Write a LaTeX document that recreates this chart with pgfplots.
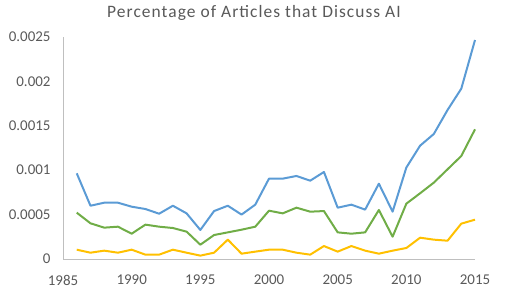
\documentclass[border=0pt]{standalone}
\usepackage{pgfplots}
\pgfplotsset{compat=1.18}
\usepackage{fontspec}
\setmainfont{Carlito}
\definecolor{cblue}{HTML}{5B9BD5}
\definecolor{cgreen}{HTML}{70AD47}
\definecolor{cyellow}{HTML}{FFC000}
\definecolor{ctext}{HTML}{595959}
\definecolor{caxis}{HTML}{BFBFBF}
\begin{document}
\begin{tikzpicture}[x=1bp,y=1bp]
\path[use as bounding box] (0,0) rectangle (514,290);
\node[text=ctext, font=\fontsize{17.5}{20}\selectfont\addfontfeature{LetterSpace=6}, anchor=center] at (254,277) {Percentage of Articles that Discuss AI};
\begin{axis}[
  at={(63bp,31bp)}, anchor=south west,
  scale only axis, width=412bp, height=222bp,
  xmin=1985, xmax=2015, ymin=0, ymax=0.0025,
  axis lines=left,
  axis line style={draw=caxis, line width=0.8bp, -},
  axis x line*=bottom, axis y line*=left,
  major tick length=0pt,
  scaled y ticks=false,
  xtick={1985,1990,1995,2000,2005,2010,2015},
  xticklabels={1985,1990,1995,2000,2005,2010,2015},
  ytick={0,0.0005,0.001,0.0015,0.002,0.0025},
  yticklabels={0,0.0005,0.001,0.0015,0.002,0.0025},
  ticklabel style={text=ctext, font=\fontsize{15}{18}\selectfont},
  xticklabel style={yshift=-12.5bp},
  yticklabel style={xshift=-9bp},
  clip=false,
  every axis plot/.append style={line width=2bp, mark=none, line join=round},
]
\addplot[cblue] coordinates {
(1986,0.000965)(1987,0.0006)(1988,0.000634)(1989,0.000634)(1990,0.000589)
(1991,0.000563)(1992,0.00051)(1993,0.0006)(1994,0.000514)(1995,0.000327)
(1996,0.00054)(1997,0.0006)(1998,0.0005)(1999,0.000612)(2000,0.000905)
(2001,0.000905)(2002,0.000935)(2003,0.000882)(2004,0.00098)(2005,0.000578)
(2006,0.000612)(2007,0.000556)(2008,0.000848)(2009,0.000533)(2010,0.00103)
(2011,0.001276)(2012,0.001408)(2013,0.001678)(2014,0.001918)(2015,0.002466)
};
\addplot[cgreen] coordinates {
(1986,0.000522)(1987,0.000402)(1988,0.000353)(1989,0.000364)(1990,0.000285)
(1991,0.000387)(1992,0.000364)(1993,0.000349)(1994,0.000308)(1995,0.000161)
(1996,0.00027)(1997,0.0003)(1998,0.00033)(1999,0.000364)(2000,0.000544)
(2001,0.000514)(2002,0.000578)(2003,0.000533)(2004,0.00054)(2005,0.0003)
(2006,0.000285)(2007,0.0003)(2008,0.000552)(2009,0.000251)(2010,0.000623)
(2011,0.00074)(2012,0.00086)(2013,0.00101)(2014,0.00116)(2015,0.00146)
};
\addplot[cyellow] coordinates {
(1986,0.000105)(1987,0.000071)(1988,0.000094)(1989,0.000071)(1990,0.000105)
(1991,0.000049)(1992,0.000049)(1993,0.000105)(1994,0.000071)(1995,0.000038)
(1996,0.000071)(1997,0.000218)(1998,0.00006)(1999,0.000083)(2000,0.000105)
(2001,0.000105)(2002,0.000071)(2003,0.000049)(2004,0.000146)(2005,0.000083)
(2006,0.000146)(2007,0.000094)(2008,0.00006)(2009,0.000094)(2010,0.000124)
(2011,0.00024)(2012,0.000218)(2013,0.000206)(2014,0.000398)(2015,0.000443)
};
\end{axis}
\end{tikzpicture}
\end{document}
